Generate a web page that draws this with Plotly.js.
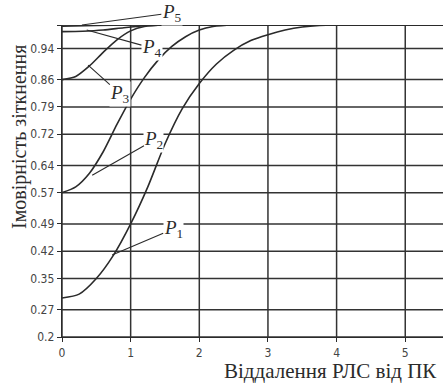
<!DOCTYPE html>
<html><head><meta charset="utf-8">
<script src="https://cdn.plot.ly/plotly-3.0.1.min.js"></script>
<style>html,body{margin:0;padding:0;background:#fff;}#chart{width:443px;height:385px;}</style>
</head><body><div id="chart"></div>
<script>
// data
const seriesNames = ["P1", "P2", "P3", "P4", "P5"];
const xP1 = [0, 0.25, 0.5, 0.75, 1.0, 1.25, 1.5, 1.75, 2.0, 2.25, 2.5, 2.75, 3.0, 3.25, 3.5, 3.75, 4.0, 4.5, 5.0, 5.55];
const yP1 = [0.30, 0.31, 0.35, 0.41, 0.49, 0.585, 0.695, 0.785, 0.85, 0.90, 0.935, 0.96, 0.975, 0.987, 0.995, 0.999, 1.0, 1.0, 1.0, 1.0];
const xP2 = [0, 0.2, 0.4, 0.6, 0.8, 1.0, 1.2, 1.4, 1.6, 1.8, 2.0, 2.2, 2.5, 3.0, 4.0, 5.0, 5.55];
const yP2 = [0.57, 0.585, 0.62, 0.675, 0.745, 0.81, 0.865, 0.91, 0.945, 0.97, 0.987, 0.996, 1.0, 1.0, 1.0, 1.0, 1.0];
const xP3 = [0, 0.2, 0.4, 0.6, 0.8, 1.0, 1.2, 1.5, 2.0, 3.0, 4.0, 5.0, 5.55];
const yP3 = [0.86, 0.868, 0.895, 0.93, 0.962, 0.985, 0.996, 1.0, 1.0, 1.0, 1.0, 1.0, 1.0];
const xP4 = [0, 0.3, 0.6, 0.9, 1.2, 1.5, 2.0, 3.0, 4.0, 5.0, 5.55];
const yP4 = [0.983, 0.984, 0.987, 0.993, 0.998, 1.0, 1.0, 1.0, 1.0, 1.0, 1.0];
const xP5 = [0, 0.5, 1.0, 2.0, 3.0, 4.0, 5.0, 5.55];
const yP5 = [0.997, 0.999, 1.0, 1.0, 1.0, 1.0, 1.0, 1.0];
const yTickVals = [0.2, 0.27, 0.35, 0.42, 0.49, 0.57, 0.64, 0.72, 0.79, 0.86, 0.94, 1.0];
const yTickText = ["0.2", "0.27", "0.35", "0.42", "0.49", "0.57", "0.64", "0.72", "0.79", "0.86", "0.94", ""];
const xTickVals = [0, 1, 2, 3, 4, 5];
const xTitle = "Віддалення РЛС від ПК";
const yTitle = "Імовірність зіткнення";
// label anchor points (curve point, label point)
const labelPoint = [[0.73, 0.41], [0.44, 0.615], [0.38, 0.897], [0.36, 0.987], [0.29, 1.0]];
const labelText  = [[1.62, 0.477], [1.34, 0.705], [0.85, 0.823], [1.31, 0.941], [1.60, 1.031]];

const xs = [xP1, xP2, xP3, xP4, xP5];
const ys = [yP1, yP2, yP3, yP4, yP5];
const ink = "#2b2b2b";
const grid = "#333333";

// grid lines as line traces built from the tick arrays (drawn first, under the curves)
const gridTraces = [];
yTickVals.forEach(v => gridTraces.push({x: [0, 5.55], y: [v, v], type: "scatter", mode: "lines",
  line: {color: grid, width: 1.5}, hoverinfo: "skip", showlegend: false}));
xTickVals.forEach(v => gridTraces.push({x: [v, v], y: [0.2, 1.0], type: "scatter", mode: "lines",
  line: {color: grid, width: 1.5}, hoverinfo: "skip", showlegend: false}));

const traces = gridTraces.concat(seriesNames.map((n, i) => ({
  x: xs[i], y: ys[i], type: "scatter", mode: "lines", name: n,
  line: {color: ink, width: 1.6, shape: "spline", smoothing: 0.7},
  hoverinfo: "skip"
})));

const annotations = seriesNames.map((n, i) => ({
  x: labelPoint[i][0], y: labelPoint[i][1], xref: "x", yref: "y",
  ax: labelText[i][0], ay: labelText[i][1], axref: "x", ayref: "y",
  text: "<i>P</i><sub>" + n.slice(1) + "</sub>",
  showarrow: true, arrowhead: 0, arrowwidth: 1.1, arrowcolor: ink,
  font: {family: "Liberation Serif, Times New Roman, serif", size: 19, color: ink},
  bgcolor: "#ffffff", borderpad: 0, standoff: 0, startstandoff: 0
}));
annotations.push({
  xref: "paper", yref: "paper", x: -0.113, y: 0.641, xanchor: "center", yanchor: "middle", textangle: -90,
  text: yTitle, showarrow: false,
  font: {family: "Liberation Serif, Times New Roman, serif", size: 20, color: ink}
});
annotations.push({
  xref: "paper", yref: "paper", x: 0.42, y: -0.108, xanchor: "left", yanchor: "middle",
  text: xTitle, showarrow: false,
  font: {family: "Liberation Serif, Times New Roman, serif", size: 21, color: ink}
});

const tickFont = {family: "Liberation Sans Narrow, DejaVu Sans Condensed, Arial Narrow, sans-serif", size: 12, color: "#444"};
const layout = {
  width: 443, height: 385,
  margin: {l: 62, r: 0, t: 25, b: 48},
  paper_bgcolor: "#ffffff", plot_bgcolor: "#ffffff",
  showlegend: false,
  xaxis: {
    range: [0, 5.55], tickvals: xTickVals, ticks: "outside", ticklen: 4, tickcolor: ink,
    showgrid: false, zeroline: false,
    showline: true, linecolor: ink, linewidth: 1.3, tickfont: tickFont
  },
  yaxis: {
    range: [0.2, 1.0], tickvals: yTickVals, ticktext: yTickText, ticks: "outside", ticklen: 4, tickcolor: ink,
    showgrid: false, zeroline: false,
    showline: true, linecolor: ink, linewidth: 1.3, tickfont: tickFont
  },
  annotations: annotations
};
Plotly.newPlot("chart", traces, layout, {staticPlot: true, displayModeBar: false});
</script></body></html>
